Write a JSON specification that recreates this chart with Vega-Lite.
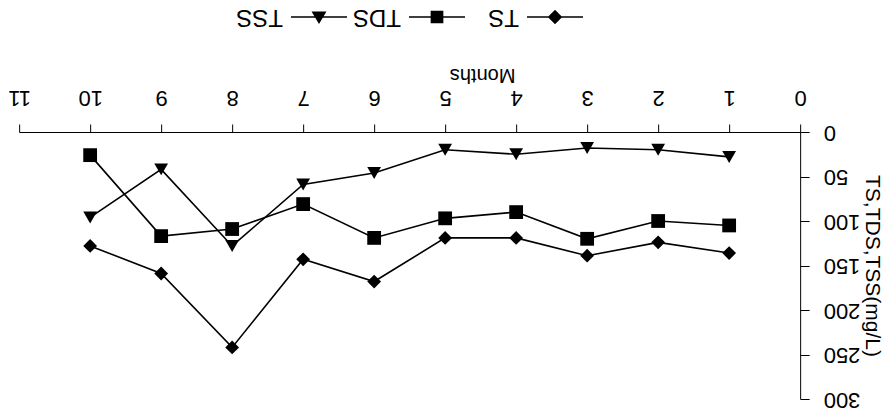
{
  "$schema": "https://vega.github.io/schema/vega-lite/v6.json",
  "autosize": {"type": "pad"},
  "padding": {"left": 7, "top": 5, "right": 0, "bottom": 0},
  "background": "white",
  "config": {
    "view": {"stroke": null},
    "font": "Liberation Sans",
    "axis": {"domainColor": "black", "tickColor": "black", "labelColor": "black", "titleColor": "black", "grid": false, "titleFontWeight": "normal"}
  },
  "resolve": {"scale": {"x": "independent", "y": "independent", "shape": "independent"}},
  "center": true,
  "datasets": {
    "readings": [
      {"month": 1, "series": "TS", "value": 136},
      {"month": 2, "series": "TS", "value": 124},
      {"month": 3, "series": "TS", "value": 139},
      {"month": 4, "series": "TS", "value": 119},
      {"month": 5, "series": "TS", "value": 119},
      {"month": 6, "series": "TS", "value": 168},
      {"month": 7, "series": "TS", "value": 143},
      {"month": 8, "series": "TS", "value": 242},
      {"month": 9, "series": "TS", "value": 159},
      {"month": 10, "series": "TS", "value": 128},
      {"month": 1, "series": "TDS", "value": 105},
      {"month": 2, "series": "TDS", "value": 100},
      {"month": 3, "series": "TDS", "value": 120},
      {"month": 4, "series": "TDS", "value": 90},
      {"month": 5, "series": "TDS", "value": 97},
      {"month": 6, "series": "TDS", "value": 119},
      {"month": 7, "series": "TDS", "value": 81},
      {"month": 8, "series": "TDS", "value": 109},
      {"month": 9, "series": "TDS", "value": 117},
      {"month": 10, "series": "TDS", "value": 26},
      {"month": 1, "series": "TSS", "value": 28},
      {"month": 2, "series": "TSS", "value": 20},
      {"month": 3, "series": "TSS", "value": 18},
      {"month": 4, "series": "TSS", "value": 25},
      {"month": 5, "series": "TSS", "value": 20},
      {"month": 6, "series": "TSS", "value": 46},
      {"month": 7, "series": "TSS", "value": 59},
      {"month": 8, "series": "TSS", "value": 128},
      {"month": 9, "series": "TSS", "value": 42},
      {"month": 10, "series": "TSS", "value": 96}
    ],
    "legendItems": [
      {"series": "TSS"},
      {"series": "TDS"},
      {"series": "TS"}
    ]
  },
  "spacing": 33,
  "vconcat": [
    {
      "width": 472,
      "height": 24,
      "data": {"name": "legendItems"},
      "encoding": {
        "x": {"field": "series", "type": "nominal", "scale": {"type": "point", "domain": ["TSS", "TDS", "TS"], "padding": 1}, "axis": null}
      },
      "layer": [
        {
          "mark": {"type": "point", "filled": true, "color": "black", "opacity": 1, "size": 3136, "strokeWidth": 1.5, "stroke": "black", "xOffset": -14},
          "encoding": {
            "shape": {"field": "series", "type": "nominal", "legend": null, "scale": {"domain": ["TS", "TDS", "TSS"], "range": ["M-1,0L1,0M0,-0.22L0.22,0L0,0.22L-0.22,0Z", "M-1,0L1,0M-0.2,-0.2L0.2,-0.2L0.2,0.2L-0.2,0.2Z", "M-1,0L1,0M-0.22,-0.17L0.22,-0.17L0,0.2Z"]}}
          }
        },
        {
          "mark": {"type": "text", "angle": 180, "align": "left", "baseline": "middle", "fontSize": 24, "xOffset": -50, "color": "black"},
          "encoding": {"text": {"field": "series"}}
        }
      ]
    },
    {
      "width": 781,
      "height": 267,
      "data": {"name": "readings"},
      "encoding": {
        "x": {"field": "month", "type": "quantitative", "scale": {"domain": [0, 11], "reverse": true, "nice": false},
          "axis": {"orient": "top", "values": [0,1,2,3,4,5,6,7,8,9,10,11], "labelAngle": 180, "labelFlush": false, "labelFontSize": 22, "labelPadding": 17, "tickSize": 8, "title": "Months", "titleAngle": 180, "titleBaseline": "top", "titleFontSize": 20, "titlePadding": 2, "titleX": 463}},
        "y": {"field": "value", "type": "quantitative", "scale": {"domain": [0, 300], "reverse": true, "nice": false},
          "axis": {"orient": "right", "values": [0,50,100,150,200,250,300], "labelAngle": 180, "labelAlign": "right", "labelBaseline": "middle", "labelFontSize": 22, "labelPadding": 14, "tickSize": 9, "title": "TS,TDS,TSS(mg/L)", "titleAngle": 90, "titleFontSize": 21, "titlePadding": 2}}
      },
      "layer": [
        {
          "mark": {"type": "line", "color": "black", "strokeWidth": 1.6},
          "encoding": {"detail": {"field": "series"}}
        },
        {
          "mark": {"type": "point", "filled": true, "color": "black", "opacity": 1, "size": 190},
          "encoding": {
            "shape": {"field": "series", "type": "nominal", "legend": null, "scale": {"domain": ["TS", "TDS", "TSS"], "range": ["diamond", "square", "triangle-down"]}}
          }
        }
      ]
    }
  ]
}
